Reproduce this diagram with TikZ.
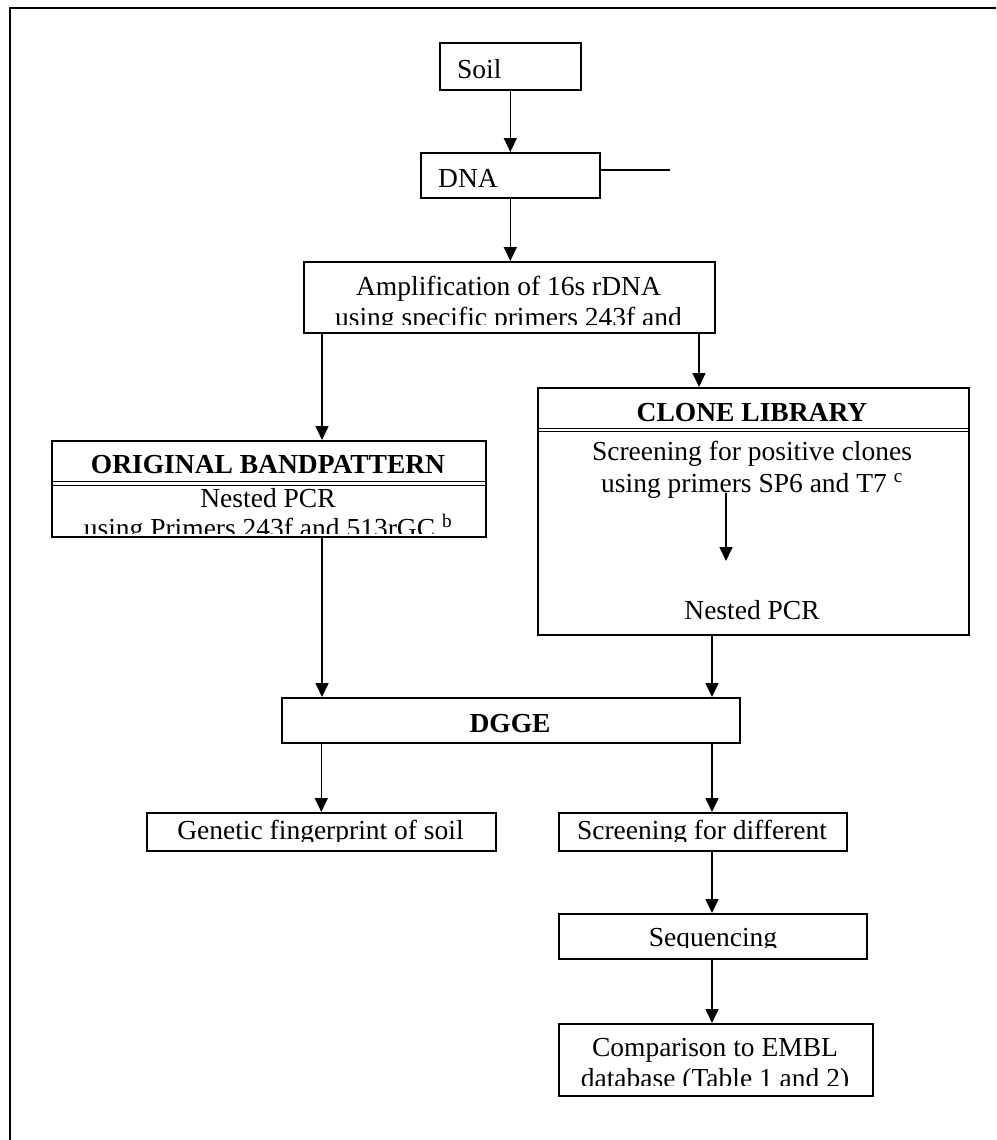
\documentclass[tikz,border=0pt]{standalone}
\usepackage{fontspec}
\setmainfont{Liberation Serif}
\usetikzlibrary{arrows.meta,calc}
\tikzset{
  box/.style={draw, line width=1.6pt, rectangle, anchor=north west, inner sep=0pt},
  arr/.style={line width=1.6pt, -{Triangle[width=13pt,length=14pt]}},
  ln/.style={line width=1.6pt},
  txt/.style={anchor=base, inner sep=0pt, font=\fontsize{27.5}{31}\selectfont},
  btxt/.style={txt, font=\fontsize{27.5}{31}\selectfont\bfseries},
}
\begin{document}
\begin{tikzpicture}[x=1pt,y=-1pt]
\useasboundingbox (0,0) rectangle (996,1140);
% outer frame
\coordinate (fA) at (10,1140);
\coordinate (fB) at (10,8);
\coordinate (fC) at (996,8);
\draw[line width=2.5pt] (fA) -- (fB) -- (fC);

% boxes
\node[box, minimum width=141pt, minimum height=47pt] (soil) at (439,42) {};
\node[box, minimum width=179pt, minimum height=45pt] (dna) at (420,152) {};
\node[box, minimum width=411pt, minimum height=71pt] (ampl) at (303,261) {};
\node[box, minimum width=434pt, minimum height=96pt] (orig) at (51,440) {};
\node[box, minimum width=431pt, minimum height=247pt] (clone) at (537,387) {};
\node[box, minimum width=458pt, minimum height=45pt] (dgge) at (281,697) {};
\node[box, minimum width=349pt, minimum height=38pt] (gen) at (146,812) {};
\node[box, minimum width=288pt, minimum height=38pt] (scr) at (558,812) {};
\node[box, minimum width=308pt, minimum height=45pt] (seq) at (558,913) {};
\node[box, minimum width=314pt, minimum height=72pt] (cmp) at (558,1023) {};

% texts (clipped to the writing area of their boxes)
\begin{scope}\clip (soil.north west) rectangle (soil.south east);
\node[txt, anchor=base west] (soilT) at (457,78) {Soil};\end{scope}
\begin{scope}\clip (dna.north west) rectangle (dna.south east);
\node[txt, anchor=base west] (dnaT) at (438,187) {DNA};\end{scope}
\begin{scope}\clip (ampl.north west) rectangle (ampl.east |- 0,324);
\node[txt] (amplT1) at (508.5,295) {Amplification of 16s rDNA};
\node[txt] (amplT2) at (508.5,326) {using specific primers 243f and};\end{scope}
\begin{scope}\clip (orig.north west) rectangle (orig.east |- 0,533);
\node[btxt] (origH) at (268,473) {ORIGINAL BANDPATTERN};
\node[txt] (origT1) at (268,507) {Nested PCR};
\node[txt] (origT2) at (268,537) {using Primers 243f and 513rGC \textsuperscript{b}};\end{scope}
\begin{scope}\clip (clone.north west) rectangle (clone.south east);
\node[btxt] (cloneH) at (752,421) {CLONE LIBRARY};
\node[txt] (cl1) at (752,460) {Screening for positive clones};
\node[txt] (cl2) at (752,492) {using primers SP6 and T7 \textsuperscript{c}};
\node[txt] (cl3) at (752,619) {Nested PCR};\end{scope}
\begin{scope}\clip (dgge.north west) rectangle (dgge.south east);
\node[btxt] (dggeT) at (510,732) {DGGE};\end{scope}
\begin{scope}\clip (gen.north west) rectangle (gen.east |- 0,841);
\node[txt] (genT) at (320.5,839) {Genetic fingerprint of soil};\end{scope}
\begin{scope}\clip (scr.north west) rectangle (scr.east |- 0,841);
\node[txt] (scrT) at (702,839) {Screening for different};\end{scope}
\begin{scope}\clip (seq.north west) rectangle (seq.east |- 0,947);
\node[txt] (seqT) at (713,946) {Sequencing};\end{scope}
\begin{scope}\clip (cmp.north west) rectangle (cmp.east |- 0,1085);
\node[txt] (cmpT1) at (715,1056) {Comparison to EMBL};
\node[txt] (cmpT2) at (715,1087) {database (Table 1 and 2)};\end{scope}

% double header rules
\draw[line width=1pt] (orig.west |- 0,481.5) -- (orig.east |- 0,481.5);
\draw[line width=1pt] (orig.west |- 0,485) -- (orig.east |- 0,485);
\draw[line width=1pt] (clone.west |- 0,428) -- (clone.east |- 0,428);
\draw[line width=1pt] (clone.west |- 0,431.5) -- (clone.east |- 0,431.5);

% connectors
\coordinate (dnaR) at (670,170);
\draw[ln] (dna.east |- dnaR) -- (dnaR);
\draw[arr] (soil.south) -- (soil.south |- dna.north);
\draw[arr] (dna.south) -- (dna.south |- ampl.north);
\coordinate (xA) at (322,0);
\coordinate (xB) at (699,0);
\coordinate (xR) at (712,0);
\draw[arr] (ampl.south -| xA) -- (orig.north -| xA);
\draw[arr] (ampl.south -| xB) -- (clone.north -| xB);
\coordinate (cia) at (726,493);
\coordinate (cib) at (726,561);
\draw[arr] (cia) -- (cib);
\draw[arr] (orig.south -| xA) -- (dgge.north -| xA);
\draw[arr] (clone.south -| xR) -- (dgge.north -| xR);
\draw[arr] (dgge.south -| gen.north) -- (gen.north);
\draw[arr] (dgge.south -| xR) -- (scr.north -| xR);
\draw[arr] (scr.south -| xR) -- (seq.north -| xR);
\draw[arr] (seq.south -| xR) -- (cmp.north -| xR);
\end{tikzpicture}
\end{document}
